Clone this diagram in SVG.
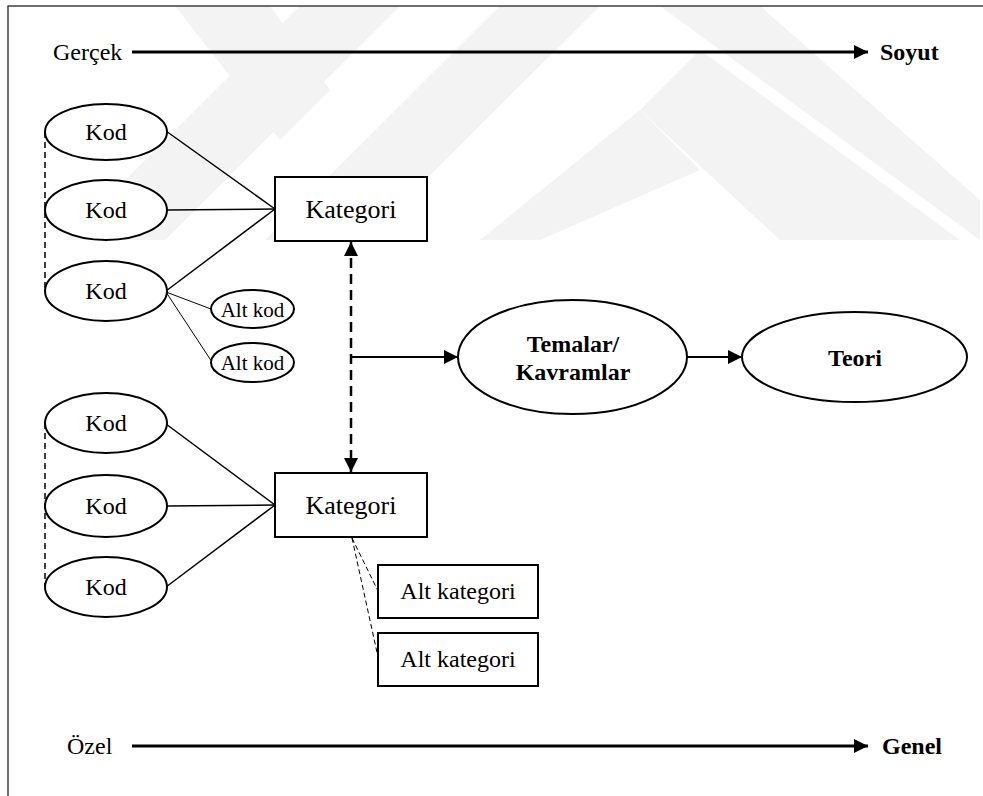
<svg xmlns="http://www.w3.org/2000/svg" width="983" height="796" viewBox="0 0 983 796">
<style>
  text { font-family: "Liberation Serif", "Times New Roman", serif; fill: #000; }
  .t { font-size: 24px; text-anchor: middle; }
  .tk { font-size: 26px; text-anchor: middle; }
  .ts { font-size: 21px; text-anchor: middle; }
  .ax { font-size: 24px; }
  .b { font-weight: bold; }
  .node { fill: #fff; stroke: #000; stroke-width: 2; }
  .ln { stroke: #000; stroke-width: 1.5; fill: none; }
  .thin { stroke: #000; stroke-width: 1; fill: none; }
  .dash { stroke: #000; stroke-width: 1.5; stroke-dasharray: 6 4; fill: none; }
  .tdash { stroke: #000; stroke-width: 1; stroke-dasharray: 5 3; fill: none; }
  .bigdash { stroke: #000; stroke-width: 2.5; stroke-dasharray: 10 6; fill: none; }
  .arr { stroke: #000; stroke-width: 2; fill: none; }
  .axis { stroke: #000; stroke-width: 3; fill: none; }
  .wm { fill: #f3f3f3; }
</style>
<defs>
  <marker id="ah" viewBox="0 0 14 14" refX="14" refY="7" markerWidth="14" markerHeight="14" markerUnits="userSpaceOnUse" orient="auto-start-reverse">
    <path d="M0,0 L14,7 L0,14 z" fill="#000"/>
  </marker>
  <marker id="ahx" viewBox="0 0 14 14" refX="14" refY="7" markerWidth="14" markerHeight="14" markerUnits="userSpaceOnUse" orient="auto">
    <path d="M0,0 L14,7 L0,14 z" fill="#000"/>
  </marker>
</defs>
<rect x="0" y="0" width="983" height="796" fill="#fff"/>
<g id="watermark">
  <polygon class="wm" points="300,6 400,6 165,240 65,240"/>
  <polygon class="wm" points="175,6 270,6 330,90 280,140"/>
  <polygon class="wm" points="500,6 600,6 365,240 265,240"/>
  <polygon class="wm" points="640,110 700,170 540,240 480,240"/>
  <polygon class="wm" points="640,110 700,50 960,240 780,240"/>
  <polygon class="wm" points="660,6 760,6 980,200 980,240"/>
</g>
<rect id="frame" x="8" y="6" width="1000" height="820" fill="none" stroke="#222" stroke-width="1.3"/>
<g id="axis-top">
  <text x="53" y="60" class="ax">Gerçek</text>
  <line class="axis" x1="132" y1="52" x2="868" y2="52" marker-end="url(#ahx)"/>
  <text x="880" y="60" class="ax b">Soyut</text>
</g>
<g id="axis-bottom">
  <text x="67" y="754" class="ax">Özel</text>
  <line class="axis" x1="132" y1="746" x2="868" y2="746" marker-end="url(#ahx)"/>
  <text x="882" y="754" class="ax b">Genel</text>
</g>
<g id="connectors">
  <line class="dash" x1="45" y1="132" x2="45" y2="292"/>
  <line class="dash" x1="45" y1="423" x2="45" y2="587"/>
  <line class="ln" x1="166" y1="131" x2="275" y2="209"/>
  <line class="ln" x1="167" y1="210" x2="275" y2="209"/>
  <line class="ln" x1="166" y1="291" x2="275" y2="209"/>
  <line class="thin" x1="166" y1="292" x2="211" y2="309"/>
  <line class="thin" x1="166" y1="292" x2="212" y2="362"/>
  <line class="ln" x1="166" y1="424" x2="275" y2="505"/>
  <line class="ln" x1="167" y1="506" x2="275" y2="505"/>
  <line class="ln" x1="166" y1="587" x2="275" y2="505"/>
  <line class="bigdash" x1="351" y1="242" x2="351" y2="472" marker-start="url(#ah)" marker-end="url(#ah)"/>
  <line class="arr" x1="351" y1="357" x2="458" y2="357" marker-end="url(#ah)"/>
  <line class="arr" x1="687" y1="357" x2="742" y2="357" marker-end="url(#ah)"/>
  <line class="tdash" x1="352" y1="538" x2="378" y2="591"/>
  <line class="tdash" x1="352" y1="538" x2="378" y2="657"/>
</g>
<g id="kod1"><ellipse class="node" cx="106" cy="132" rx="61" ry="28"/><text class="t" x="106" y="140">Kod</text></g>
<g id="kod2"><ellipse class="node" cx="106" cy="210" rx="61" ry="30"/><text class="t" x="106" y="218">Kod</text></g>
<g id="kod3"><ellipse class="node" cx="106" cy="291" rx="61" ry="30"/><text class="t" x="106" y="299">Kod</text></g>
<g id="altkod1"><ellipse class="node" cx="252.5" cy="309" rx="41.5" ry="19"/><text class="ts" x="252.5" y="317">Alt kod</text></g>
<g id="altkod2"><ellipse class="node" cx="252.5" cy="362.5" rx="41.5" ry="19.5"/><text class="ts" x="252.5" y="370">Alt kod</text></g>
<g id="kategori1"><rect class="node" x="275" y="177" width="152" height="64"/><text class="tk" x="351" y="218">Kategori</text></g>
<g id="kod4"><ellipse class="node" cx="106" cy="423" rx="61" ry="30"/><text class="t" x="106" y="431">Kod</text></g>
<g id="kod5"><ellipse class="node" cx="106" cy="506" rx="61" ry="31"/><text class="t" x="106" y="514">Kod</text></g>
<g id="kod6"><ellipse class="node" cx="106" cy="587" rx="61" ry="30"/><text class="t" x="106" y="595">Kod</text></g>
<g id="kategori2"><rect class="node" x="275" y="473" width="152" height="64"/><text class="tk" x="351" y="514">Kategori</text></g>
<g id="altkategori1"><rect class="node" x="378" y="565" width="160" height="53"/><text class="t" x="458" y="599">Alt kategori</text></g>
<g id="altkategori2"><rect class="node" x="378" y="633" width="160" height="53"/><text class="t" x="458" y="667">Alt kategori</text></g>
<g id="temalar"><ellipse class="node" cx="572.5" cy="357" rx="114.5" ry="57"/><text class="t b" x="573" y="352">Temalar/</text><text class="t b" x="573" y="380">Kavramlar</text></g>
<g id="teori"><ellipse class="node" cx="854.5" cy="357" rx="112.5" ry="45"/><text class="t b" x="855" y="366">Teori</text></g>
</svg>
